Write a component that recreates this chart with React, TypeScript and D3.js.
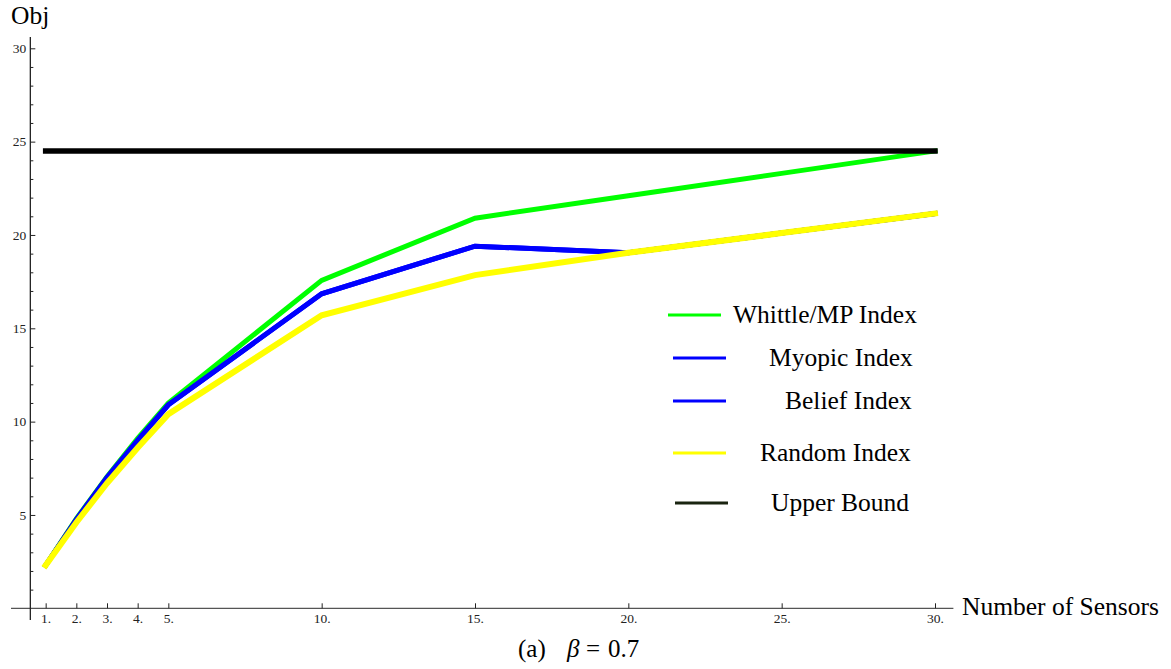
import { useEffect, useRef } from 'react';
import * as d3 from 'd3';

// values
const sensors = [1, 2, 3, 4, 5, 10, 15, 20, 25, 30];
const whittle = [2.3, 4.8, 7.05, 9.1, 11.0, 17.57, 20.9, 22.1, 23.3, 24.5];
const myopic = [2.3, 4.75, 7.0, 9.0, 10.9, 16.85, 19.4, 19.05, 20.1, 21.15];
const belief = [2.3, 4.75, 7.0, 9.0, 10.9, 16.85, 19.4, 19.05, 20.1, 21.15];
const random = [2.3, 4.6, 6.7, 8.6, 10.4, 15.7, 17.85, 19.05, 20.1, 21.15];
const upper = [24.5, 24.5, 24.5, 24.5, 24.5, 24.5, 24.5, 24.5, 24.5, 24.5];

const xTicks = [1, 2, 3, 4, 5, 10, 15, 20, 25, 30];
const yTicks = [5, 10, 15, 20, 25, 30];

const series = [
  { name: 'Whittle/MP Index', values: whittle, color: '#00ff00', width: 5, lx: 733, ly: 315, sx: 668 },
  { name: 'Myopic Index', values: myopic, color: '#0000ff', width: 5, lx: 769, ly: 358, sx: 673 },
  { name: 'Belief Index', values: belief, color: '#0000ff', width: 5, lx: 785, ly: 401, sx: 673 },
  { name: 'Random Index', values: random, color: '#ffff00', width: 6, lx: 760, ly: 453, sx: 673 },
  { name: 'Upper Bound', values: upper, color: '#000000', width: 5.5, lx: 771, ly: 503, sx: 675 },
];

const W = 1171;
const H = 669;
const FONT = '"Liberation Serif", "Times New Roman", serif';

export default function App() {
  const ref = useRef<SVGSVGElement>(null);

  useEffect(() => {
    const svg = d3.select(ref.current);
    svg.selectAll('*').remove();

    const x = d3.scaleLinear().domain([0, 30]).range([15, 935]);
    const y = d3.scaleLinear().domain([0, 30]).range([608.3, 48.3]);

    // axes lines
    svg.append('line')
      .attr('x1', x(-0.13)).attr('x2', x(30.6))
      .attr('y1', y(0)).attr('y2', y(0))
      .attr('stroke', '#555').attr('stroke-width', 1.3);
    svg.append('line')
      .attr('x1', x(0.5)).attr('x2', x(0.5))
      .attr('y1', y(30.6)).attr('y2', y(-0.63))
      .attr('stroke', '#222').attr('stroke-width', 1.3);

    const xAxis = svg.append('g')
      .attr('transform', `translate(0,${y(0)})`)
      .call(d3.axisBottom(x).tickValues(xTicks).tickSizeInner(-5).tickSizeOuter(0).tickPadding(5).tickFormat(d => `${d}.`));
    xAxis.select('.domain').remove();

    const yAxis = svg.append('g')
      .attr('transform', `translate(${x(0.5)},0)`)
      .call(d3.axisLeft(y).tickValues(yTicks).tickSizeInner(-5).tickSizeOuter(0).tickPadding(4));
    yAxis.select('.domain').remove();

    const minor = d3.range(1, 31).filter(v => v % 5 !== 0);
    const yMinor = svg.append('g')
      .attr('transform', `translate(${x(0.5)},0)`)
      .call(d3.axisLeft(y).tickValues(minor).tickSizeInner(-3).tickSizeOuter(0).tickFormat(() => ''));
    yMinor.select('.domain').remove();

    svg.selectAll('.tick line').attr('stroke', '#222');
    svg.selectAll('g').attr('font-family', null).attr('font-size', null);
    svg.selectAll('.tick text')
      .attr('fill', '#222')
      .style('font-family', FONT)
      .style('font-size', '13.5px');

    // series lines
    const line = d3.line<number>()
      .x((d, i) => x(sensors[i]))
      .y(d => y(d));

    svg.append('g')
      .selectAll('path')
      .data(series)
      .join('path')
      .attr('d', d => line(d.values))
      .attr('fill', 'none')
      .attr('stroke', d => d.color)
      .attr('stroke-width', d => d.width)
      .attr('stroke-linecap', 'square')
      .attr('stroke-linejoin', 'miter');

    // legend
    const legend = svg.append('g');
    legend.selectAll('line')
      .data(series)
      .join('line')
      .attr('x1', d => d.sx).attr('x2', d => d.sx + 53)
      .attr('y1', d => d.ly).attr('y2', d => d.ly)
      .attr('stroke', d => (d.color === '#000000' ? '#1a2410' : d.color))
      .attr('stroke-width', 3);
    legend.selectAll('text')
      .data(series)
      .join('text')
      .attr('x', d => d.lx)
      .attr('y', d => d.ly + 8)
      .style('font-family', FONT)
      .style('font-size', '25.5px')
      .attr('fill', '#000')
      .text(d => d.name);

    // axis labels
    svg.append('text')
      .attr('x', 11).attr('y', 24)
      .style('font-family', FONT).style('font-size', '25.5px')
      .text('Obj');
    svg.append('text')
      .attr('x', 962).attr('y', 615)
      .style('font-family', FONT).style('font-size', '25.5px')
      .text('Number of Sensors');

    // caption
    const cap = svg.append('text')
      .attr('y', 657)
      .style('font-family', FONT).style('font-size', '25px');
    cap.append('tspan').attr('x', 518).text('(a)');
    cap.append('tspan').attr('x', 567).style('font-style', 'italic').text('β');
    cap.append('tspan').attr('x', 586).text('=');
    cap.append('tspan').attr('x', 608).text('0.7');
  }, []);

  return (
    <svg
      ref={ref}
      width={W}
      height={H}
      style={{ position: 'absolute', left: 0, top: 0, background: '#fff' }}
    />
  );
}
